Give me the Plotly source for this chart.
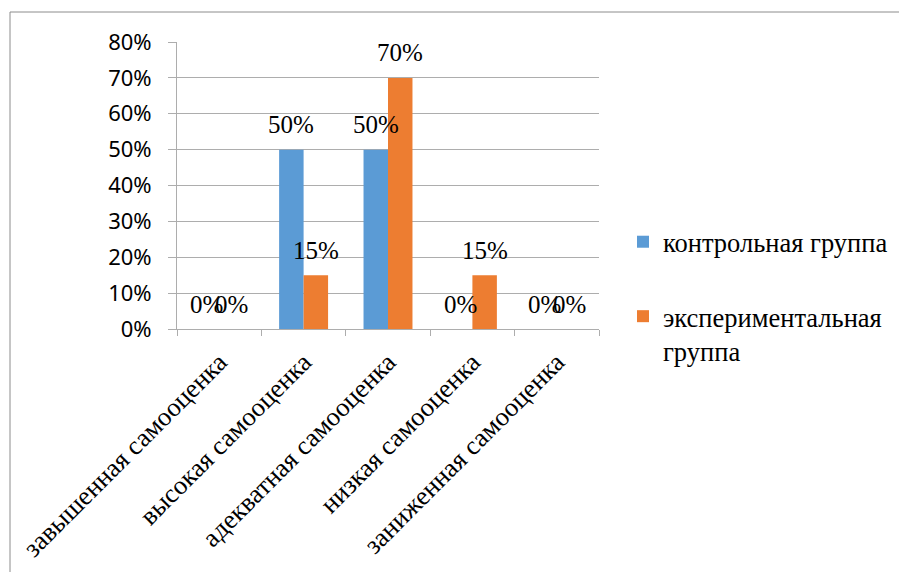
import plotly.graph_objects as go

categories = ["завышенная самооценка", "высокая самооценка", "адекватная самооценка",
              "низкая самооценка", "заниженная самооценка"]
series_names = ["контрольная группа", "экспериментальная<br>группа"]
control_values = [0, 50, 50, 0, 0]
experimental_values = [0, 15, 70, 15, 0]
y_ticks = [0, 10, 20, 30, 40, 50, 60, 70, 80]

W, H = 899, 572
L, R, T, B = 177, 300, 42, 243
PW, PH = W - L - R, H - T - B
BARGAP = 0.42

def px_x(x):
    return (x - L) / PW

def px_y(y):
    return (H - B - y) / PH

SERIF = "Liberation Serif"
SANS = "Noto Sans"

series = [(series_names[0], control_values, "#5B9BD5", "a"),
          (series_names[1], experimental_values, "#ED7D31", "b")]

fig = go.Figure()
for name, vals, color, grp in series:
    fig.add_trace(go.Bar(
        x=categories, y=vals, name=name, legendgroup=grp,
        marker=dict(color=color, line=dict(width=0)),
    ))

# data labels placed above each bar via the axis scales
band = PW / len(categories)
bar_w = band * (1 - BARGAP) / len(series)
annotations = []
for si, (name, vals, color, grp) in enumerate(series):
    shift = (si - (len(series) - 1) / 2) * bar_w
    for cat, v in zip(categories, vals):
        annotations.append(dict(
            x=cat, y=v, xref="x", yref="y", text=f"{v}%", showarrow=False,
            xanchor="center", yanchor="middle", xshift=shift, yshift=25,
            font=dict(family=SERIF, size=25, color="#000000"),
        ))

fig.update_layout(
    width=W, height=H,
    margin=dict(l=L, r=R, t=T, b=B, autoexpand=False),
    paper_bgcolor="white", plot_bgcolor="white",
    font=dict(family=SERIF),
    barmode="group", bargap=BARGAP, bargroupgap=0,
    showlegend=True,
    legend=dict(x=px_x(623), y=px_y(218), xanchor="left", yanchor="top",
                font=dict(family=SERIF, size=26.5, color="#000000"),
                tracegroupgap=37, valign="top", bgcolor="rgba(0,0,0,0)",
                itemwidth=30),
    xaxis=dict(type="category", tickangle=-45, showgrid=False,
               showline=True, linecolor="#ADADAD", linewidth=1,
               ticks="outside", ticklen=6, tickcolor="#ADADAD", tickson="boundaries",
               ticklabelstandoff=6,
               tickfont=dict(family=SERIF, size=26.5, color="#000000"),
               zeroline=False),
    yaxis=dict(range=[0, 80], tickvals=y_ticks, ticktext=[f"{v}%" for v in y_ticks],
               showgrid=True, gridcolor="#ADADAD", gridwidth=1,
               showline=True, linecolor="#ADADAD", linewidth=1,
               ticks="outside", ticklen=8, tickcolor="#ADADAD",
               ticklabelstandoff=12,
               tickfont=dict(family=SANS, size=22, color="#000000"),
               zeroline=False),
    annotations=annotations,
    shapes=[
        dict(type="line", xref="paper", yref="paper", x0=px_x(10), x1=px_x(W + 5),
             y0=px_y(12), y1=px_y(12), line=dict(color="#8C8C8C", width=1)),
        dict(type="line", xref="paper", yref="paper", x0=px_x(10), x1=px_x(10),
             y0=px_y(12), y1=px_y(H + 5), line=dict(color="#8C8C8C", width=1)),
    ],
)

fig.write_html("out.html", config={"displayModeBar": False},
               post_script="document.body.style.margin='0px';document.body.style.overflow='hidden';")
